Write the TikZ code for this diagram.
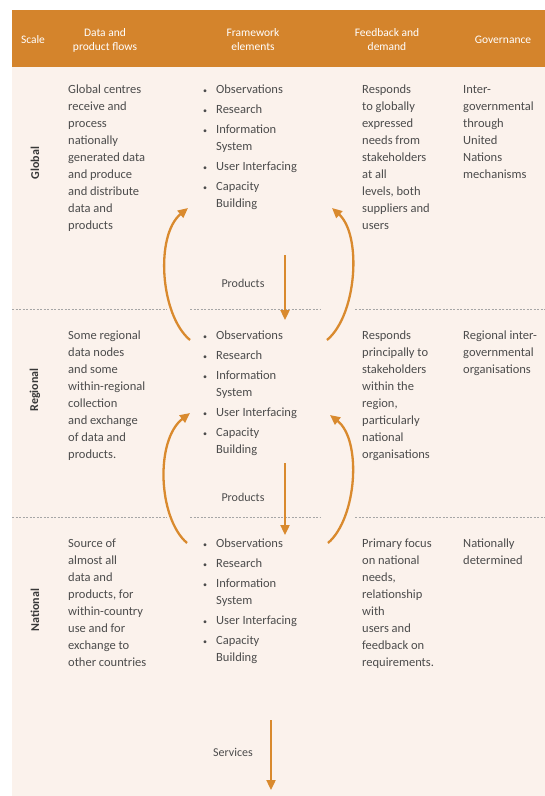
\documentclass[tikz,border=0pt]{standalone}
\usepackage{fontspec}
\setmainfont{Carlito}
\usetikzlibrary{arrows.meta}
\definecolor{hdr}{HTML}{D4842C}
\definecolor{bgc}{HTML}{FBF2EC}
\definecolor{arr}{HTML}{D98A2E}
\definecolor{txt}{HTML}{4C4C4C}
\definecolor{lab}{HTML}{383838}
\newcommand{\cellt}[1]{\begin{tabular}[t]{@{}l@{}}#1\end{tabular}}
\newcommand{\mybul}{{\fontsize{8}{8}\selectfont\textbullet}}
\newcommand{\fwlist}{\begin{tabular}[t]{@{}l@{\hspace{9pt}}l@{}}\mybul&Observations\\[3pt]\mybul&Research\\[3pt]\mybul&Information\\&System\\[3pt]\mybul&User Interfacing\\[3pt]\mybul&Capacity\\&Building\end{tabular}}
\begin{document}
\begin{tikzpicture}[x=1pt,y=-1pt,
  hd/.style={text=white,font=\fontsize{11.5}{14}\selectfont,align=center,inner sep=0pt},
  cell/.style={text=txt,font=\fontsize{12.5}{17}\selectfont,anchor=base west,inner sep=0pt},
  rowlab/.style={text=lab,font=\bfseries\fontsize{12}{15}\selectfont,rotate=90,inner sep=0pt},
  flowlab/.style={text=txt,font=\fontsize{12}{15}\selectfont,inner sep=0pt},
  dline/.style={draw=gray!70,line width=0.6pt,dash pattern=on 2pt off 1.5pt},
  carrow/.style={draw=arr,line width=2.3pt,-{Triangle[length=10pt,width=9pt]}}]
\useasboundingbox (0,0) rectangle (545,796);
\fill[white] (0,0) rectangle (545,796);
\fill[bgc] (12,67) rectangle (545,796);
\fill[hdr] (12,10) rectangle (545,67);
% header
\node[hd] (hscale) at (33,40) {Scale};
\node[hd] (hdata) at (105,40) {Data and\\product flows};
\node[hd] (hfw) at (253,40) {Framework\\elements};
\node[hd] (hfb) at (387,40) {Feedback and\\demand};
\node[hd] (hgov) at (503,40) {Governance};
% row labels
\node[rowlab] (lglob) at (35,163) {Global};
\node[rowlab] (lreg) at (35,390) {Regional};
\node[rowlab] (lnat) at (35,610) {National};
% separators
\draw[dline] (12,309) -- (167,309);
\draw[dline] (190,309) -- (320,309);
\draw[dline] (355,309) -- (545,309);
\draw[dline] (12,517) -- (167,517);
\draw[dline] (190,517) -- (320,517);
\draw[dline] (355,517) -- (545,517);
% global row
\node[cell] (gdata) at (68,93) {\cellt{Global centres\\receive and\\process\\nationally\\generated data\\and produce\\and distribute\\data and\\products}};
\node[cell] (gfw) at (203,93) {\fwlist};
\node[cell] (gfb) at (362,93) {\cellt{Responds\\to globally\\expressed\\needs from\\stakeholders\\at all\\levels, both\\suppliers and\\users}};
\node[cell] (ggov) at (463,93) {\cellt{Inter-\\governmental\\through\\United\\Nations\\mechanisms}};
% regional row
\node[cell] (rdata) at (68,339) {\cellt{Some regional\\data nodes\\and some\\within-regional\\collection\\and exchange\\of data and\\products.}};
\node[cell] (rfw) at (203,339) {\fwlist};
\node[cell] (rfb) at (362,339) {\cellt{Responds\\principally to\\stakeholders\\within the\\region,\\particularly\\national\\organisations}};
\node[cell] (rgov) at (463,339) {\cellt{Regional inter-\\governmental\\organisations}};
% national row
\node[cell] (ndata) at (68,547) {\cellt{Source of\\almost all\\data and\\products, for\\within-country\\use and for\\exchange to\\other countries}};
\node[cell] (nfw) at (203,547) {\fwlist};
\node[cell] (nfb) at (362,547) {\cellt{Primary focus\\on national\\needs,\\relationship\\with\\users and\\feedback on\\requirements.}};
\node[cell] (ngov) at (463,547) {\cellt{Nationally\\determined}};
% flow arrows
\coordinate (gLs) at (190,340); \coordinate (gLe) at (188,208);
\coordinate (gRs) at (327,340); \coordinate (gRe) at (332,208);
\coordinate (rLs) at (187,543); \coordinate (rLe) at (190,413);
\coordinate (rRs) at (328,543); \coordinate (rRe) at (330,415);
\draw[carrow] (gLs) .. controls (160,315) and (155,235) .. (gLe);
\draw[carrow] (gRs) .. controls (357,315) and (362,235) .. (gRe);
\draw[carrow] (rLs) .. controls (158,518) and (155,440) .. (rLe);
\draw[carrow] (rRs) .. controls (357,518) and (362,440) .. (rRe);
\coordinate (p1s) at (285,255); \coordinate (p1e) at (285,320);
\coordinate (p2s) at (285,463); \coordinate (p2e) at (285,535);
\coordinate (s1s) at (271,720); \coordinate (s1e) at (271,790);
\draw[carrow] (p1s) -- (p1e);
\draw[carrow] (p2s) -- (p2e);
\draw[carrow] (s1s) -- (s1e);
\node[flowlab] (prod1) at (243,283) {Products};
\node[flowlab] (prod2) at (243,497) {Products};
\node[flowlab] (serv) at (233,752) {Services};
\end{tikzpicture}
\end{document}
